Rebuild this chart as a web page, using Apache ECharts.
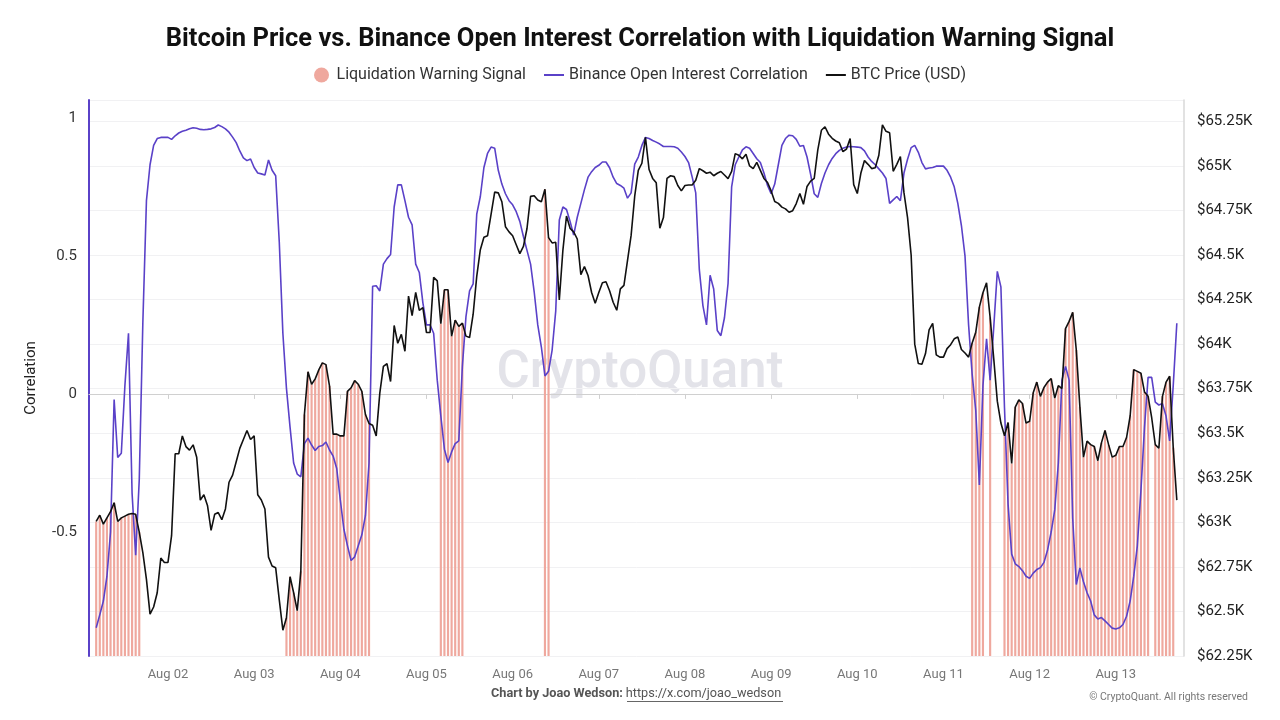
<!DOCTYPE html>
<html>
<head>
<meta charset="utf-8">
<script src="https://cdn.jsdelivr.net/npm/echarts@6/dist/echarts.min.js"></script>
<style>
html,body{margin:0;padding:0;background:#fff;}
#chart{width:1280px;height:720px;}
</style>
</head>
<body>
<div id="chart"></div>
<script>
// Hourly data, first point = Aug 01 04:00 UTC, last point = Aug 13 17:00 UTC
const firstHourUTC = Date.UTC(2024, 7, 1, 4);

const btcPrice = [
  63005,63040,62990,63025,63060,63110,63005,63025,63035,63045,
  63050,63045,62945,62830,62680,62485,62525,62605,62800,62775,
  62775,62925,63385,63385,63485,63425,63405,63435,63365,63125,
  63155,63095,62955,63045,63055,63015,63075,63225,63265,63340,
  63415,63465,63515,63465,63485,63155,63125,63075,62805,62755,
  62745,62565,62395,62465,62695,62605,62505,62725,63605,63845,
  63775,63805,63855,63895,63885,63765,63495,63495,63485,63485,
  63735,63755,63795,63775,63735,63605,63555,63545,63485,63725,
  63875,63890,63790,64105,64005,64055,63960,64270,64160,64290,
  64190,64205,64065,64065,64375,64355,64115,64305,64305,64045,
  64135,64100,64118,64045,64037,64168,64380,64530,64600,64608,
  64729,64853,64849,64799,64659,64630,64608,64558,64508,64548,
  64649,64829,64833,64809,64799,64869,64598,64568,64572,64248,
  64528,64719,64650,64630,64590,64390,64435,64385,64290,64230,
  64290,64345,64350,64300,64235,64190,64310,64330,64470,64610,
  64830,64975,65015,65160,64980,64930,64905,64650,64710,64930,
  64945,64940,64890,64860,64890,64893,64893,64920,64985,64973,
  64959,64965,64945,64959,64969,64949,64929,64969,65069,65060,
  65040,65065,65000,64985,65020,64975,64930,64907,64860,64800,
  64790,64769,64759,64740,64749,64789,64845,64785,64885,64915,
  64930,65090,65200,65220,65178,65155,65140,65130,65080,65095,
  65154,64895,64845,64960,65030,65009,64985,64990,65060,65230,
  65194,65186,64970,65009,65053,64850,64710,64500,64000,63891,
  63887,63947,64080,64117,63940,63927,63927,63975,63997,64030,
  64040,63970,63950,63927,64007,64067,64208,64288,64344,64150,
  63920,63680,63557,63486,63560,63330,63647,63687,63667,63557,
  63567,63727,63787,63707,63757,63787,63807,63697,63767,63751,
  64087,64128,64178,63967,63647,63366,63456,63436,63426,63346,
  63446,63516,63436,63366,63376,63426,63426,63476,63597,63857,
  63847,63837,63731,63707,63587,63436,63416,63707,63787,63820,
  63420,63125
];

const oiCorrelation = [
  -0.847,-0.80,-0.75,-0.66,-0.50,-0.02,-0.23,-0.215,0.03,0.22,
  -0.36,-0.584,-0.31,0.26,0.70,0.83,0.90,0.925,0.929,0.929,
  0.929,0.922,0.935,0.945,0.951,0.955,0.96,0.964,0.962,0.958,
  0.957,0.958,0.960,0.965,0.974,0.968,0.960,0.948,0.93,0.91,
  0.88,0.855,0.845,0.851,0.82,0.80,0.797,0.793,0.847,0.81,
  0.79,0.55,0.22,0.02,-0.12,-0.25,-0.29,-0.30,-0.18,-0.16,
  -0.185,-0.205,-0.19,-0.187,-0.174,-0.203,-0.225,-0.27,-0.384,-0.49,
  -0.55,-0.603,-0.59,-0.55,-0.51,-0.44,-0.25,0.39,0.392,0.373,
  0.47,0.49,0.505,0.677,0.757,0.757,0.70,0.64,0.612,0.47,
  0.44,0.33,0.25,0.25,0.22,0.05,-0.08,-0.20,-0.248,-0.21,
  -0.18,-0.17,0.10,0.28,0.373,0.399,0.651,0.715,0.82,0.871,
  0.894,0.890,0.81,0.76,0.725,0.70,0.685,0.66,0.625,0.57,
  0.52,0.47,0.37,0.25,0.17,0.065,0.082,0.159,0.30,0.63,
  0.677,0.668,0.625,0.575,0.64,0.69,0.74,0.785,0.805,0.82,
  0.828,0.84,0.84,0.819,0.785,0.762,0.755,0.745,0.709,0.728,
  0.832,0.858,0.90,0.929,0.925,0.918,0.912,0.905,0.896,0.896,
  0.896,0.895,0.89,0.876,0.86,0.838,0.786,0.728,0.45,0.32,
  0.25,0.43,0.38,0.23,0.211,0.276,0.40,0.75,0.83,0.858,
  0.884,0.895,0.89,0.871,0.852,0.838,0.80,0.755,0.725,0.76,
  0.83,0.90,0.925,0.937,0.935,0.922,0.897,0.90,0.858,0.795,
  0.725,0.712,0.762,0.80,0.83,0.853,0.87,0.882,0.89,0.894,
  0.896,0.895,0.894,0.892,0.88,0.858,0.842,0.83,0.815,0.80,
  0.78,0.69,0.703,0.715,0.70,0.80,0.85,0.892,0.90,0.875,
  0.838,0.815,0.818,0.82,0.825,0.825,0.825,0.81,0.785,0.75,
  0.69,0.61,0.50,0.25,0.07,-0.06,-0.33,0.03,0.20,0.05,
  0.24,0.444,0.388,-0.05,-0.40,-0.58,-0.615,-0.625,-0.64,-0.66,
  -0.668,-0.649,-0.636,-0.629,-0.61,-0.565,-0.50,-0.42,-0.25,0.05,
  0.10,0.05,-0.45,-0.69,-0.63,-0.68,-0.72,-0.75,-0.80,-0.815,
  -0.81,-0.822,-0.835,-0.848,-0.851,-0.847,-0.835,-0.805,-0.75,-0.66,
  -0.55,-0.35,-0.12,0.06,0.06,-0.03,-0.04,-0.035,-0.08,-0.17,
  0.03,0.256
];

// Hours (index into the arrays above) where the liquidation warning signal is on
const warningRanges = [[0,12],[53,76],[96,102],[125,126],[244,247],[249,249],[253,293],[295,300]];

const monthNames = ['Jan','Feb','Mar','Apr','May','Jun','Jul','Aug','Sep','Oct','Nov','Dec'];
const priceTicks = { min: 62250, max: 65370, step: 250 };
const corrRange = { min: -0.949, max: 1.0645 };

// ---- build chart inputs ----
const PAD = 2; // empty hour slots at each end of the time axis
const pad2 = n => String(n).padStart(2, '0');
const categories = [];
for (let k = -PAD; k < btcPrice.length + PAD; k++) {
  const d = new Date(firstHourUTC + k * 3600000);
  categories.push(monthNames[d.getUTCMonth()] + ' ' + pad2(d.getUTCDate()) + ' ' + pad2(d.getUTCHours()) + ':00');
}
const padArr = Array(PAD).fill('-');
const isWarning = i => warningRanges.some(r => i >= r[0] && i <= r[1]);
const warningData = padArr.concat(btcPrice.map((p, i) => isWarning(i) ? p : '-'), padArr);
const corrData = padArr.concat(oiCorrelation, padArr);
const priceData = padArr.concat(btcPrice, padArr);
const atMidnight = (idx, val) => / 00:00$/.test(val);

const PURPLE = '#5a41c8';
const PINK = '#efa89e';
const FONT = 'Roboto, "Noto Sans", sans-serif';

const chart = echarts.init(document.getElementById('chart'), null, { renderer: 'canvas' });
chart.setOption({
  animation: false,
  backgroundColor: '#fff',
  textStyle: { fontFamily: FONT },
  title: {
    text: 'Bitcoin Price vs. Binance Open Interest Correlation with Liquidation Warning Signal',
    left: 'center', top: 22,
    textStyle: { fontSize: 25.5, fontWeight: 'bold', color: '#111', fontFamily: FONT }
  },
  legend: {
    top: 62, left: 'center', itemGap: 17, itemWidth: 20, itemHeight: 15,
    textStyle: { fontSize: 16, color: '#333', fontFamily: FONT },
    data: [
      { name: 'Liquidation Warning Signal', icon: 'circle' },
      { name: 'Binance Open Interest Correlation', itemStyle: { opacity: 0 } },
      { name: 'BTC Price (USD)', itemStyle: { opacity: 0 } }
    ]
  },
  grid: { left: 89, right: 96, top: 100, bottom: 64, containLabel: false },
  xAxis: {
    type: 'category', data: categories, boundaryGap: false,
    axisLine: { lineStyle: { color: '#d0d0d0' } },
    axisTick: { interval: atMidnight, length: 5, lineStyle: { color: '#d0d0d0' } },
    axisLabel: {
      interval: atMidnight, color: '#777', fontSize: 13, margin: 12,
      formatter: v => v.slice(0, 6)
    },
    splitLine: { show: false }
  },
  yAxis: [
    {
      type: 'value', position: 'left', min: corrRange.min, max: corrRange.max, splitNumber: 4,
      name: 'Correlation', nameLocation: 'middle', nameGap: 50, nameRotate: 90,
      nameTextStyle: { fontSize: 15, color: '#222', fontFamily: FONT },
      axisLine: { show: true, lineStyle: { color: PURPLE, width: 2 } },
      axisTick: { show: false },
      axisLabel: { color: '#333', fontSize: 15, margin: 12, showMinLabel: false, showMaxLabel: false },
      splitLine: { show: false }
    },
    {
      type: 'value', position: 'right', min: priceTicks.min, max: priceTicks.max, interval: priceTicks.step,
      axisLine: { show: true, lineStyle: { color: '#d8d8d8', width: 1.5 } },
      axisTick: { show: false },
      axisLabel: {
        color: '#222', fontSize: 15, margin: 13, showMaxLabel: false,
        formatter: v => '$' + (v / 1000) + 'K'
      },
      splitLine: { show: true, lineStyle: { color: '#f1f1f3', width: 1 } }
    }
  ],
  graphic: [
    {
      type: 'text', left: 'center', top: 349, z: -1, silent: true,
      style: { text: 'CryptoQuant', fontSize: 51, fontWeight: 500, fill: '#e3e3e9', fontFamily: FONT }
    },
    {
      type: 'text', left: 491, top: 687, silent: true,
      style: {
        text: '{b|Chart by Joao Wedson:} {l|https://x.com/joao_wedson}',
        fontFamily: FONT,
        rich: {
          b: { fontWeight: 'bold', fill: '#555', fontSize: 12.7, fontFamily: FONT },
          l: { fill: '#555', fontSize: 12.7, fontFamily: FONT }
        }
      }
    },
    {
      type: 'line', silent: true,
      shape: { x1: 627, y1: 701.5, x2: 783, y2: 701.5 },
      style: { stroke: '#666', lineWidth: 1 }
    },
    {
      type: 'text', right: 32, top: 692, silent: true,
      style: { text: '\u00A9 CryptoQuant. All rights reserved', fontSize: 10.5, fill: '#777', fontFamily: FONT }
    }
  ],
  series: [
    {
      name: 'Liquidation Warning Signal', type: 'bar', yAxisIndex: 1,
      data: warningData, barWidth: '60%', clip: true, z: 1,
      itemStyle: { color: PINK }
    },
    {
      name: 'Binance Open Interest Correlation', type: 'line', yAxisIndex: 0,
      data: corrData, symbol: 'none', z: 3,
      lineStyle: { color: PURPLE, width: 1.6 }, itemStyle: { color: PURPLE }
    },
    {
      name: 'BTC Price (USD)', type: 'line', yAxisIndex: 1,
      data: priceData, symbol: 'none', z: 4,
      lineStyle: { color: '#111', width: 1.6 }, itemStyle: { color: '#111' }
    }
  ]
});
</script>
</body>
</html>
